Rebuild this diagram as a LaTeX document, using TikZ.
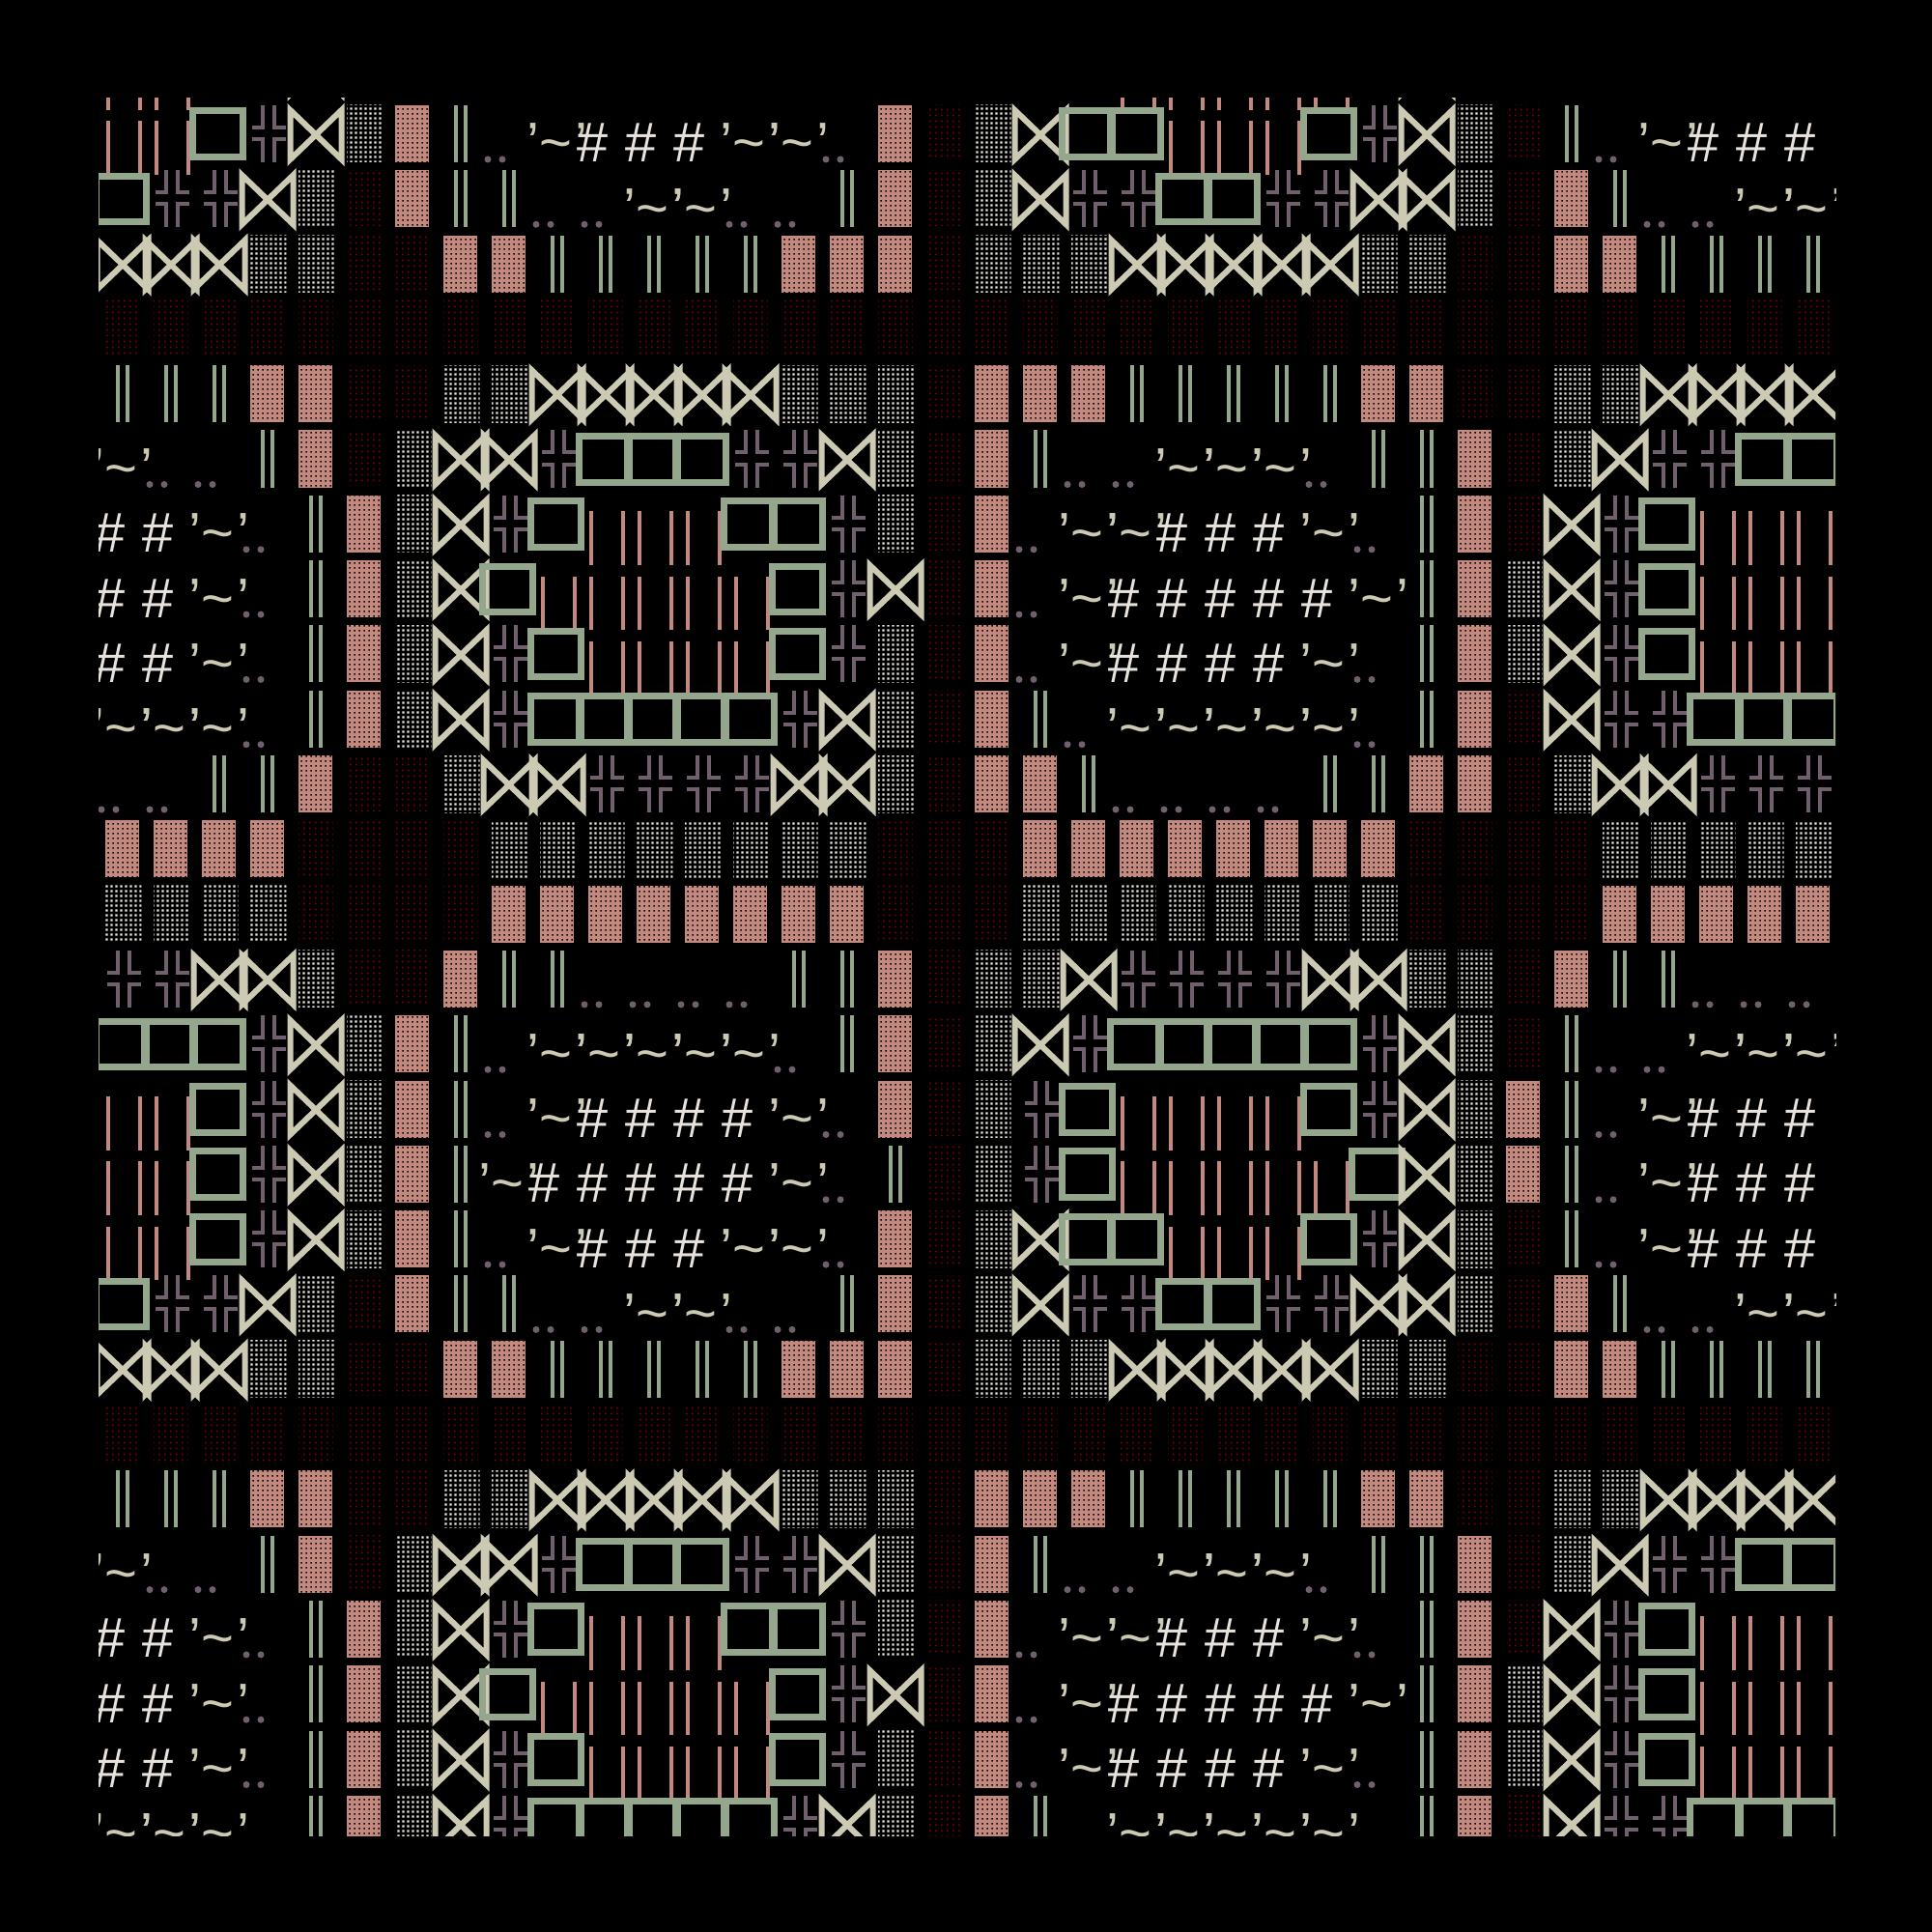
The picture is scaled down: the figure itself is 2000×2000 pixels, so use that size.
\documentclass[tikz,border=0pt]{standalone}
\usepackage{fontspec}
\setmainfont{Liberation Sans}
\usetikzlibrary{patterns}
\definecolor{grn}{RGB}{148,166,140}
\definecolor{pnk}{RGB}{196,137,126}
\definecolor{prp}{RGB}{112,96,110}
\definecolor{crm}{RGB}{205,202,180}
\definecolor{hashc}{RGB}{232,226,220}
\definecolor{dotw}{RGB}{236,232,224}
\definecolor{dred}{RGB}{120,0,12}
\pgfdeclarepatternformonly{wdots}{\pgfqpoint{0pt}{0pt}}{\pgfqpoint{2.7pt}{2.7pt}}{\pgfqpoint{2.7pt}{2.7pt}}{\pgfpathrectangle{\pgfqpoint{0.7pt}{0.7pt}}{\pgfqpoint{1.3pt}{1.3pt}}\pgfusepath{fill}}
\pgfdeclarepatternformonly{pholes}{\pgfqpoint{0pt}{0pt}}{\pgfqpoint{2.5pt}{2.5pt}}{\pgfqpoint{2.5pt}{2.5pt}}{\pgfpathrectangle{\pgfqpoint{0.75pt}{0.75pt}}{\pgfqpoint{1pt}{1pt}}\pgfusepath{fill}}
\pgfdeclarepatternformonly{rdots}{\pgfqpoint{0pt}{0pt}}{\pgfqpoint{3pt}{3pt}}{\pgfqpoint{3pt}{3pt}}{\pgfpathrectangle{\pgfqpoint{1pt}{1pt}}{\pgfqpoint{1pt}{1pt}}\pgfusepath{fill}}
\tikzset{
  hashs/.style={text=hashc,font=\fontsize{29}{29}\selectfont\itshape,inner sep=0pt,anchor=base},
  tils/.style={text=crm,font=\fontsize{29}{29}\selectfont,inner sep=0pt,anchor=base},
  qline/.style={draw=grn,line width=3.5pt},
  bline/.style={draw=crm,line width=3pt,line join=miter},
  xline/.style={draw=prp,line width=2pt},
  vline/.style={draw=grn,line width=2pt},
  lline/.style={draw=pnk,line width=1.8pt}
}
\def\glyphQ{\path[qline] (-3,13) rectangle (49,60.5);}
\def\glyphB{\path[bline] (-1.5,12) -- (-1.5,63) -- (51.5,12) -- (51.5,63) -- cycle;}
\def\glyphX{\path[xline] (20,7)--(20,30)--(8.5,30) (32,7)--(32,30)--(44,30) (8.5,42)--(20,42)--(20,66) (44,42)--(32,42)--(32,66);}
\def\glyphD{\fill[pattern=wdots,pattern color=dotw] (7,7) rectangle (44.5,66);}
\def\glyphP{\fill[pnk] (6.5,7) rectangle (42,66);\fill[pattern=pholes,pattern color=black] (6.5,7) rectangle (42,66);}
\def\glyphR{\fill[pattern=rdots,pattern color=dred] (7,7) rectangle (42.5,64);}
\def\glyphV{\path[vline] (20,7)--(20,66) (30,7)--(30,66);}
\def\glyphL{\path[lline] (10,23.5)--(10,79) (43,23.5)--(43,79);}
\def\glyphH{\node[hashs] (h\r-\colidx) at (10.5,66) {\#};}
\def\glyphT{\node[tils] (ta\r-\colidx) at (0,66) {'};\node[tils] (tb\r-\colidx) at (23,66) {\textasciitilde};\node[tils] (tc\r-\colidx) at (50,66) {'};}
\def\glyphO{\fill[prp] (3,63) circle (3.5) (18,63) circle (3.5);}
\expandafter\def\csname tilerow0\endcsname{LLQXBDPVOTHHHTTOPRDBQQLLLQXBDRVOTHHH}
\expandafter\def\csname tilerow1\endcsname{QXXBDRPVVOOTTOOVPRDBXXQQXXBBDRPVOOTT}
\expandafter\def\csname tilerow2\endcsname{BBBDDRRPPVVVVVPPPRDDDBBBBBDDRRPPVVVV}
\expandafter\def\csname tilerow3\endcsname{RRRRRRRRRRRRRRRRRRRRRRRRRRRRRRRRRRRR}
\expandafter\def\csname tilerow4\endcsname{VVVPPRRDDBBBBBDDDRPPPVVVVVPPRRDDBBBB}
\expandafter\def\csname tilerow5\endcsname{TOOVPRDBBXQQQXXBDRPVOOTTTOVVPRDBXXQQ}
\expandafter\def\csname tilerow6\endcsname{HHTOVPDBXQLLLQQXDRPOTTHHHTOVPRBXQLLL}
\expandafter\def\csname tilerow7\endcsname{HHTOVPDBQLLLLLQXBRPOTHHHHHTVPDBXQLLL}
\expandafter\def\csname tilerow8\endcsname{HHTOVPDBXQLLLLQXDRPOTHHHHTOVPDBXQLLL}
\expandafter\def\csname tilerow9\endcsname{TTTOVPDBXQQQQQXBDRPVOTTTTTOVPRBXXQQQ}
\expandafter\def\csname tilerow10\endcsname{OOVVPRRDBBXXXXBBDRPPVOOOOVVPPRDBBXXX}
\expandafter\def\csname tilerow11\endcsname{PPPPRRRRDDDDDDDDRRRPPPPPPPPRRRRDDDDD}
\expandafter\def\csname tilerow12\endcsname{DDDDRRRRPPPPPPPPRRRDDDDDDDDRRRRPPPPP}
\expandafter\def\csname tilerow13\endcsname{XXBBDRRPVVOOOOVVPRDDBXXXXBBDDRPVVOOO}
\expandafter\def\csname tilerow14\endcsname{QQQXBDPVOTTTTTOVPRDBXQQQQQXBDRVOOTTT}
\expandafter\def\csname tilerow15\endcsname{LLQXBDPVOTHHHHTOPRDXQLLLLQXBDPVOTHHH}
\expandafter\def\csname tilerow16\endcsname{LLQXBDPVTHHHHHTOVRDXQLLLLLQBDPVOTHHH}
\def\parsecells#1{\ifx#1\relax\else
  \pgfmathsetmacro\cx{102+50*\colidx}\pgfmathsetmacro\cy{102+67.3*\r}%
  \begin{scope}[shift={(\cx,\cy)}]\csname glyph#1\endcsname\end{scope}%
  \pgfmathtruncatemacro\colidx{\colidx+1}%
  \expandafter\parsecells\fi}
\def\cellrow#1{\def\colidx{0}\parsecells#1\relax}
\begin{document}
\begin{tikzpicture}[x=0.5pt,y=-0.5pt]
\useasboundingbox (0,0) rectangle (2000,2000);
\fill[black] (0,0) rectangle (2000,2000);
\begin{scope}
\clip (102,102) rectangle (1900,1900);
\foreach \r in {-1,...,26}{
  \pgfmathtruncatemacro\rr{mod(\r+17,17)}
  \edef\thisrow{\csname tilerow\rr\endcsname}
  \expandafter\cellrow\expandafter{\thisrow}
}
\end{scope}
\end{tikzpicture}
\end{document}
